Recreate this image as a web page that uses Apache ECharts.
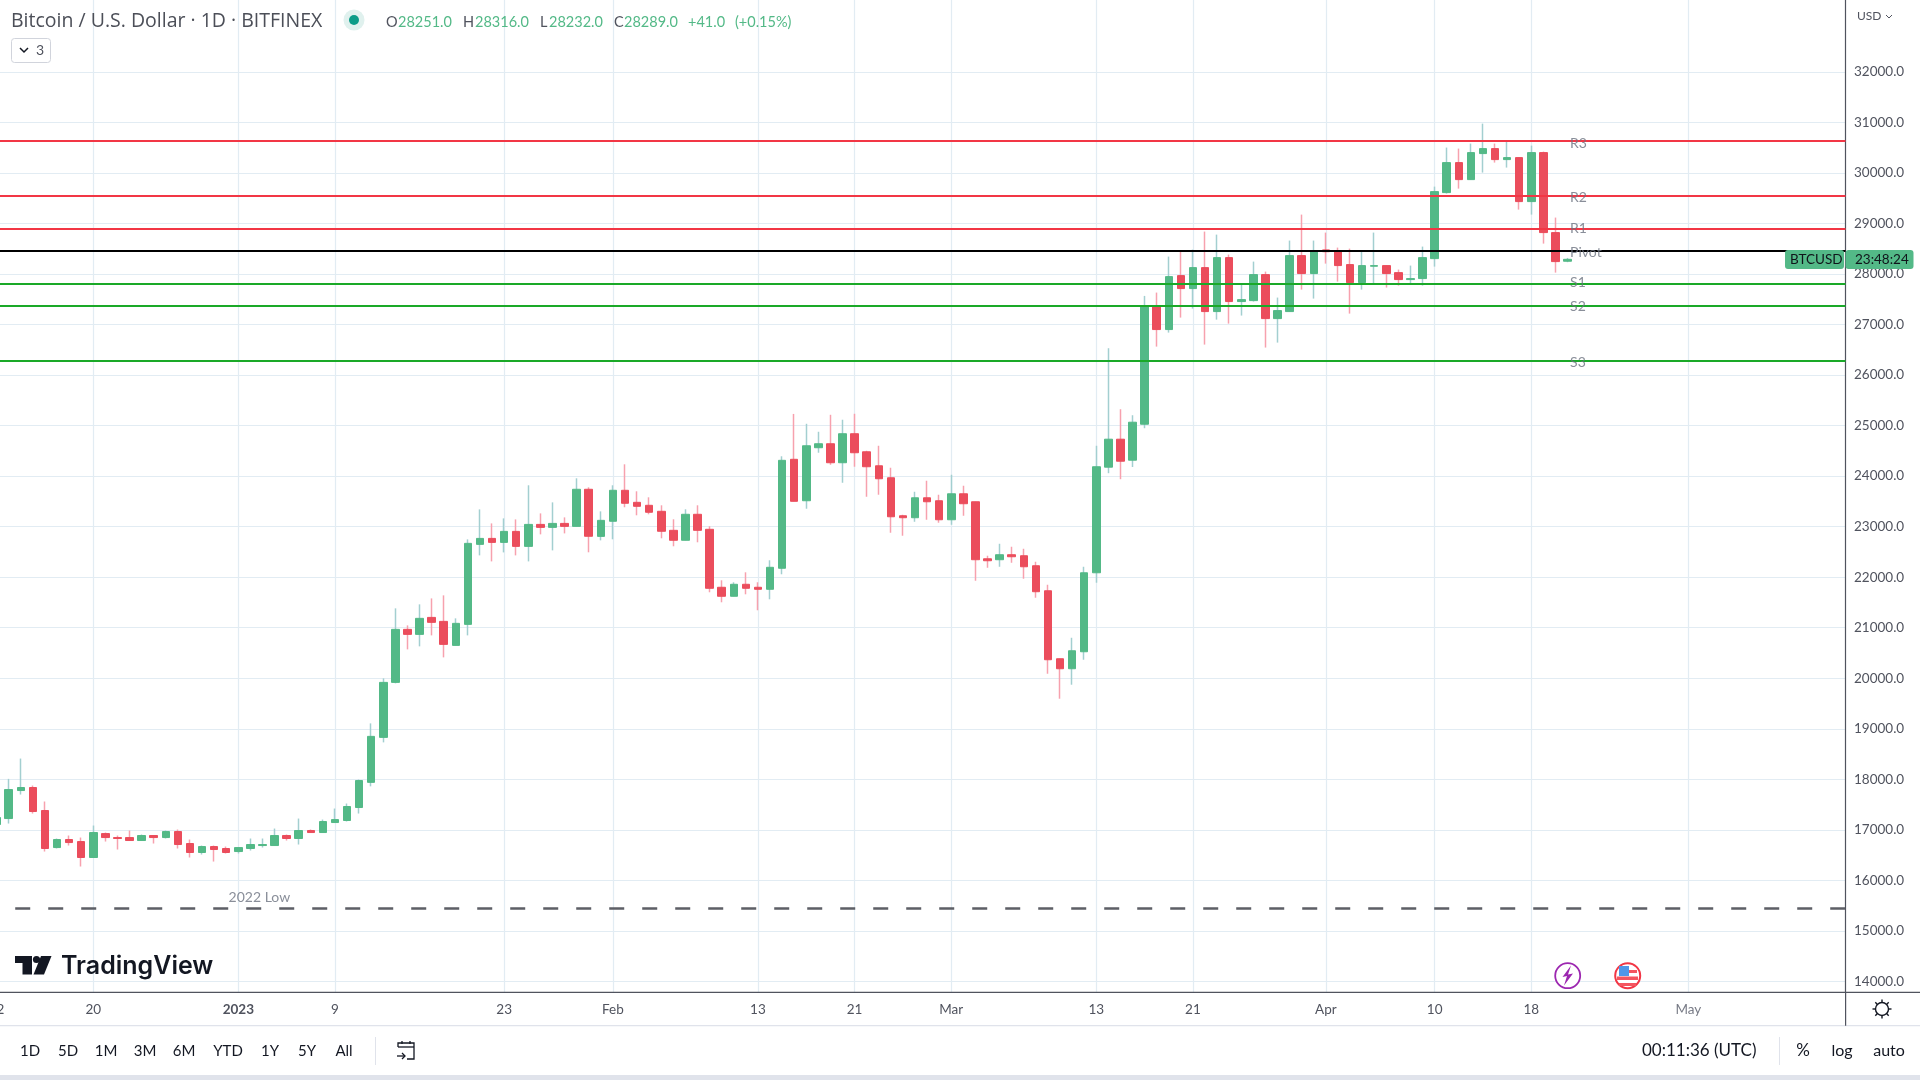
<!DOCTYPE html>
<html>
<head>
<meta charset="utf-8">
<title>BTCUSD</title>
<script src="https://cdn.jsdelivr.net/npm/echarts@6/dist/echarts.min.js"></script>
<style>
	html, body { margin: 0; padding: 0; background: #fff; }
	#chart { width: 1920px; height: 1080px; }
</style>
</head>
<body>
<div id="chart"></div>
<script>
// one slot per day, 2022-12-12 .. 2023-05-14
const categories = [];
for (let i = 0; i < 154; i++) {
	categories.push(new Date(Date.UTC(2022, 11, 12 + i)).toISOString().slice(0, 10));
}

const tickDates = ['2022-12-12', '2022-12-20', '2023-01-01', '2023-01-09', '2023-01-23', '2023-02-01', '2023-02-13', '2023-02-21', '2023-03-01', '2023-03-13', '2023-03-21', '2023-04-01', '2023-04-10', '2023-04-18', '2023-05-01'];
const tickLabels = ['12', '20', '2023', '9', '23', 'Feb', '13', '21', 'Mar', '13', '21', 'Apr', '10', '18', 'May'];
const priceTicks = [14000, 15000, 16000, 17000, 18000, 19000, 20000, 21000, 22000, 23000, 24000, 25000, 26000, 27000, 28000, 29000, 30000, 31000, 32000];

const opens = [
	17106, 17224, 17778, 17838, 17383, 16650, 16809, 16769, 16453, 16927,
	16848, 16848, 16789, 16888, 16848, 16967, 16730, 16552, 16670, 16631,
	16571, 16631, 16690, 16690, 16888, 16829, 16987, 16947, 17145, 17185,
	17442, 17940, 18830, 19918, 20967, 20868, 21204, 21125, 20650, 21066,
	22649, 22767, 22688, 22906, 22609, 23044, 22985, 23064, 23005, 23739,
	22807, 23106, 23719, 23481, 23422, 23303, 22927, 22730, 23244, 22947,
	21800, 21622, 21859, 21800, 21760, 22176, 24332, 23512, 24561, 24640,
	24264, 24838, 24481, 24204, 23967, 23215, 23176, 23571, 23512, 23136,
	23650, 23492, 22364, 22345, 22444, 22424, 22226, 21731, 20386, 20188,
	20524, 22087, 24176, 24730, 24314, 25026, 27354, 26899, 27967, 27710,
	28125, 27255, 28323, 27453, 27472, 27987, 27116, 27255, 28363, 28007,
	28475, 28462, 28185, 27829, 28152, 28165, 28026, 27888, 27908, 28303,
	29609, 30203, 29866, 30381, 30480, 30262, 30302, 29431, 30401, 28818,
	28251
];
const closes = [
	17244, 17798, 17838, 17363, 16631, 16809, 16749, 16453, 16947, 16848,
	16829, 16789, 16888, 16848, 16967, 16710, 16552, 16670, 16611, 16552,
	16650, 16710, 16710, 16888, 16829, 16987, 16947, 17165, 17204, 17462,
	17976, 18850, 19918, 20967, 20868, 21185, 21106, 20670, 21086, 22669,
	22767, 22688, 22906, 22609, 23044, 22985, 23064, 23005, 23739, 22809,
	23124, 23719, 23462, 23402, 23284, 22908, 22730, 23244, 22927, 21780,
	21622, 21859, 21780, 21760, 22195, 24312, 23501, 24600, 24640, 24264,
	24838, 24462, 24185, 23947, 23195, 23176, 23571, 23492, 23136, 23650,
	23453, 22345, 22325, 22444, 22404, 22206, 21712, 20366, 20188, 20544,
	22087, 24185, 24730, 24294, 25066, 27360, 26899, 27947, 27710, 28125,
	27255, 28323, 27453, 27492, 27987, 27116, 27275, 28363, 28007, 28442,
	28440, 28165, 27829, 28165, 28165, 28007, 27888, 27908, 28323, 29629,
	30203, 29866, 30401, 30480, 30262, 30302, 29431, 30401, 28818, 28244,
	28289
];
const lows = [
	17080, 17125, 17699, 17323, 16571, 16631, 16690, 16275, 16453, 16769,
	16611, 16789, 16789, 16730, 16829, 16631, 16453, 16512, 16373, 16532,
	16532, 16591, 16650, 16690, 16789, 16710, 16947, 16947, 17145, 17165,
	17323, 17861, 18731, 19899, 20571, 20631, 20848, 20413, 20650, 20848,
	22431, 22312, 22490, 22431, 22312, 22847, 22530, 22866, 23005, 22492,
	22728, 22749, 23383, 23224, 23244, 22769, 22611, 22730, 22690, 21701,
	21503, 21622, 21661, 21345, 21562, 22057, 23501, 23354, 24462, 24224,
	23868, 24185, 23591, 23631, 22879, 22820, 23096, 23136, 23077, 23037,
	23215, 21929, 22186, 22206, 22285, 21969, 21593, 20089, 19595, 19872,
	20366, 21890, 24057, 23938, 24180, 24947, 26562, 26839, 27136, 27314,
	26602, 27096, 27017, 27176, 27453, 26543, 26641, 27255, 27690, 27512,
	28204, 27848, 27215, 27690, 27809, 27730, 27769, 27809, 27769, 28145,
	29589, 29688, 29866, 30005, 30203, 30104, 29273, 29174, 28600, 28026,
	28232
];
const highs = [
	17260, 18009, 18411, 17877, 17561, 16829, 16888, 16848, 17086, 16947,
	16888, 16987, 16908, 16888, 16987, 17007, 16809, 16690, 16690, 16670,
	16650, 16829, 16829, 17026, 16908, 17224, 17007, 17204, 17422, 17521,
	17996, 19107, 19998, 21383, 21046, 21462, 21580, 21640, 21185, 22748,
	23341, 23064, 23163, 23143, 23818, 23262, 23480, 23183, 23956, 23778,
	23302, 23818, 24233, 23699, 23580, 23422, 23145, 23343, 23422, 23007,
	21938, 21899, 22096, 21899, 22334, 24392, 25230, 25035, 24877, 25213,
	25115, 25233, 24501, 24600, 24165, 23235, 23690, 23908, 23631, 24026,
	23809, 23492, 22424, 22661, 22602, 22562, 22305, 21850, 20386, 20801,
	22206, 24600, 26530, 25323, 25204, 27565, 27631, 28343, 28442, 28481,
	28838, 28778, 28383, 27789, 28244, 28046, 27532, 28660, 29174, 28660,
	28818, 28521, 28501, 28462, 28818, 28165, 28086, 28165, 28541, 29728,
	30500, 30480, 30579, 30974, 30579, 30618, 30302, 30539, 30420, 29115,
	28316
];

const levelNames = ['R3', 'R2', 'R1', 'Pivot', 'S1', 'S2', 'S3'];
const levelValues = [30638, 29550, 28897, 28462, 27809, 27373, 26285];
const levelColors = ['#f23645', '#f23645', '#f23645', '#000000', '#1aa928', '#1aa928', '#1aa928'];
const lowName = '2022 Low';
const lowValue = 15448;

const font = 'Lato, "Open Sans", sans-serif';
const upColor = '#53b987';
const downColor = '#eb4d5c';
const upWick = '#a3cfd0';
const downWick = '#f7a1ae';
const gridColor = '#e2ecf3';
const axisColor = '#50535e';
const noteColor = '#6c7280';
// the level captions do not sit at one fixed distance from their lines
const captionShift = [2.7, 2, 0, 1.7, -1.3, 1, 2];

let wickData = [];
let bodyData = [];
opens.forEach((open, i) => {
	wickData.push([open, closes[i], lows[i], highs[i]]);
	bodyData.push([open, closes[i], Math.min(open, closes[i]), Math.max(open, closes[i])]);
});

function text(str, x, y, size, fill, opt) {
	return {
		type: 'text',
		z: 100,
		style: Object.assign({
			text: str,
			x: x,
			y: y,
			fill: fill,
			font: size + 'px ' + font,
			textVerticalAlign: 'middle'
		}, opt || {})
	};
}

function rect(x, y, w, h, fill, r, z) {
	return {
		type: 'rect',
		z: z || 90,
		shape: { x: x, y: y, width: w, height: h, r: r || 0 },
		style: { fill: fill }
	};
}

function line(x1, y1, x2, y2, color, width) {
	return {
		type: 'line',
		z: 95,
		shape: { x1: x1, y1: y1, x2: x2, y2: y2 },
		style: { stroke: color, lineWidth: width || 1 }
	};
}

function poly(points, fill) {
	return { type: 'polygon', z: 96, shape: { points: points }, style: { fill: fill } };
}

function stroked(points, color, width) {
	return {
		type: 'polyline',
		z: 96,
		shape: { points: points },
		style: { stroke: color, lineWidth: width || 1.3, fill: null }
	};
}

function circle(cx, cy, r, fill, stroke, width) {
	return {
		type: 'circle',
		z: 95,
		shape: { cx: cx, cy: cy, r: r },
		style: { fill: fill, stroke: stroke, lineWidth: width || 0 }
	};
}

let graphics = [
	// panels below the plot and the axes frame
	rect(0, 1075, 1920, 5, '#e0e3eb'),
	line(0, 1025.7, 1920, 1025.7, '#e0e3eb', 1.3),
	line(0, 992.4, 1920, 992.4, axisColor, 1.2),
	line(1845.6, 992, 1845.6, 1025.7, axisColor, 1.2),

	// header
	text('Bitcoin / U.S. Dollar · 1D · BITFINEX', 11, 21, 19.5, '#4c4f58', { font: '19.5px "Open Sans", sans-serif' }),
	circle(354, 20, 10.5, '#e0f1ee'),
	circle(354, 20, 5, '#0c9c88'),
	text('O', 386, 22, 14.5, '#50535e'),
	text('28251.0', 398, 22, 14.5, upColor),
	text('H', 463, 22, 14.5, '#50535e'),
	text('28316.0', 475, 22, 14.5, upColor),
	text('L', 540, 22, 14.5, '#50535e'),
	text('28232.0', 549, 22, 14.5, upColor),
	text('C', 614, 22, 14.5, '#50535e'),
	text('28289.0', 624, 22, 14.5, upColor),
	text('+41.0', 688, 22, 14.5, upColor),
	text('(+0.15%)', 735, 22, 14.5, upColor),
	{
		type: 'rect', z: 90,
		shape: { x: 11.5, y: 38.5, width: 39, height: 24, r: 3 },
		style: { fill: '#ffffff', stroke: '#d1d4dc', lineWidth: 1 }
	},
	stroked([[20, 48], [24, 52], [28, 48]], '#131722', 1.5),
	text('3', 36, 50.5, 14, '#50535e'),
	text('USD', 1857, 16, 12, axisColor),
	stroked([[1886, 15], [1889, 18], [1892, 15]], axisColor, 1),

	// price tags
	rect(1785, 250, 59, 19, upColor, 3),
	rect(1845.5, 250, 68, 19, upColor, 3),
	text('BTCUSD', 1790, 260, 13.5, '#10141a'),
	text('23:48:24', 1855, 260, 13.5, '#10141a'),

	// watermark
	poly([[15, 956], [32, 956], [32, 974.5], [22.5, 974.5], [22.5, 963], [15, 963]], '#131722'),
	circle(36.5, 959.5, 3.6, '#131722'),
	poly([[41, 956], [51.5, 956], [44, 974.5], [33.5, 974.5]], '#131722'),
	{
		type: 'text', z: 100,
		style: { text: 'TradingView', x: 61, y: 966.5, fill: '#131722', font: '600 25px Inter, sans-serif', textVerticalAlign: 'middle' }
	},

	// event markers
	circle(1567.7, 975.7, 12.5, '#ffffff', '#9c27b0', 1.8),
	poly([[1571, 965.5], [1562.5, 977], [1567, 976], [1564, 985.5], [1573, 973.5], [1568, 974.5]], '#9c27b0'),
	circle(1627.7, 975.7, 12.5, '#ffffff', '#f23645', 2),
	rect(1619, 966, 10, 10, '#4f97e8', 0, 97),
	rect(1629, 970, 8, 3, '#f4555f', 0, 97),
	rect(1617, 976.5, 21, 3.5, '#f4555f', 0, 97),
	rect(1619, 983, 17, 3, '#f4555f', 0, 97),

	// toolbar
	text('1D', 30, 1051, 15, '#131722', { textAlign: 'center' }),
	text('5D', 68, 1051, 15, '#131722', { textAlign: 'center' }),
	text('1M', 106, 1051, 15, '#131722', { textAlign: 'center' }),
	text('3M', 145, 1051, 15, '#131722', { textAlign: 'center' }),
	text('6M', 184, 1051, 15, '#131722', { textAlign: 'center' }),
	text('YTD', 228, 1051, 15, '#131722', { textAlign: 'center' }),
	text('1Y', 270, 1051, 15, '#131722', { textAlign: 'center' }),
	text('5Y', 307, 1051, 15, '#131722', { textAlign: 'center' }),
	text('All', 344, 1051, 15, '#131722', { textAlign: 'center' }),
	line(375.5, 1037, 375.5, 1065, '#e0e3eb', 1),
	stroked([[398, 1047], [398, 1043], [414, 1043], [414, 1059], [407, 1059]], '#131722', 1.3),
	stroked([[398, 1047], [414, 1047]], '#131722', 1.3),
	stroked([[402, 1041], [402, 1044]], '#131722', 1.3),
	stroked([[410, 1041], [410, 1044]], '#131722', 1.3),
	stroked([[397, 1056], [405, 1056]], '#131722', 1.3),
	stroked([[402, 1053], [405, 1056], [402, 1059]], '#131722', 1.3),
	text('00:11:36 (UTC)', 1642, 1051, 17, '#131722'),
	line(1779.5, 1037, 1779.5, 1065, '#e0e3eb', 1),
	text('%', 1803, 1051, 17, '#131722', { textAlign: 'center' }),
	text('log', 1842, 1051, 16, '#131722', { textAlign: 'center' }),
	text('auto', 1889, 1051, 16, '#131722', { textAlign: 'center' }),

	// settings gear
	circle(1882, 1009, 6.5, '#ffffff', '#131722', 1.4),
	line(1882, 999.5, 1882, 1002.5, '#131722', 1.4),
	line(1882, 1015.5, 1882, 1018.5, '#131722', 1.4),
	line(1872.5, 1009, 1875.5, 1009, '#131722', 1.4),
	line(1888.5, 1009, 1891.5, 1009, '#131722', 1.4),
	line(1875.3, 1002.3, 1877.4, 1004.4, '#131722', 1.4),
	line(1886.6, 1013.6, 1888.7, 1015.7, '#131722', 1.4),
	line(1875.3, 1015.7, 1877.4, 1013.6, '#131722', 1.4),
	line(1886.6, 1004.4, 1888.7, 1002.3, '#131722', 1.4)
];

let myChart = echarts.init(document.getElementById('chart'));

let option = {
	animation: false,
	backgroundColor: '#ffffff',
	textStyle: { fontFamily: font },
	grid: { left: -3.38, right: 74.5, top: 0, bottom: 87.7, outerBoundsMode: 'none' },
	xAxis: {
		type: 'category',
		data: categories,
		boundaryGap: false,
		axisLine: { show: false },
		axisTick: { show: false },
		axisLabel: {
			show: true,
			interval: (index, value) => tickDates.includes(value),
			margin: 10,
			fontSize: 13.5,
			color: axisColor,
			showMinLabel: true,
			hideOverlap: false,
			formatter: (value) => {
				let label = tickLabels[tickDates.indexOf(value)];
				if (label === '2023') return '{b|' + label + '}';
				if (label === 'May') return '{f|' + label + '}';
				return label;
			},
			rich: {
				b: { fontWeight: 'bold', fontSize: 13.5, color: axisColor },
				f: { fontSize: 13.5, color: '#787b86' }
			}
		},
		splitLine: {
			show: true,
			interval: (index, value) => tickDates.includes(value),
			lineStyle: { color: gridColor, width: 1.2 }
		}
	},
	yAxis: {
		type: 'value',
		position: 'right',
		min: 13786,
		max: 33420,
		scale: true,
		axisLine: { show: true, onZero: false, lineStyle: { color: axisColor, width: 1.2 } },
		axisTick: { show: false, customValues: priceTicks },
		axisLabel: {
			customValues: priceTicks,
			margin: 8.5,
			fontSize: 13.5,
			color: axisColor,
			formatter: (value) => value.toFixed(1)
		},
		splitLine: { show: true, lineStyle: { color: gridColor, width: 1.2 } }
	},
	series: [
		{
			name: 'wick',
			type: 'candlestick',
			barWidth: 1,
			data: wickData,
			silent: true,
			itemStyle: { color: upWick, color0: downWick, borderColor: upWick, borderColor0: downWick, borderWidth: 1.5 },
			z: 2
		},
		{
			name: 'body',
			type: 'candlestick',
			barWidth: 8,
			data: bodyData,
			silent: true,
			itemStyle: { color: upColor, color0: downColor, borderColor: upColor, borderColor0: downColor, borderWidth: 1 },
			z: 3,
			markLine: {
				silent: true,
				symbol: ['none', 'none'],
				z: 6,
				label: { show: false },
				emphasis: { disabled: true },
				data: levelValues.map((value, i) => ({
					yAxis: value,
					lineStyle: { color: levelColors[i], width: 2, type: 'solid', opacity: 1 }
				})).concat([{
					yAxis: lowValue,
					lineStyle: { color: '#5d5f66', width: 2.6, type: [15, 18], dashOffset: 14.4, opacity: 1 }
				}])
			}
		},
		{
			name: 'levels',
			type: 'scatter',
			symbolSize: 1,
			silent: true,
			z: 7,
			itemStyle: { color: 'transparent' },
			label: {
				show: true,
				position: 'right',
				distance: 2,
				fontSize: 14,
				color: noteColor,
				formatter: (p) => p.data.name
			},
			data: levelNames.map((name, i) => ({
				name: name,
				value: [categories[130], levelValues[i]],
				label: { offset: [0, captionShift[i]] }
			})).concat([{
				name: lowName,
				value: [categories[21], lowValue],
				label: { position: 'top', distance: 3, offset: [9, 0], fontSize: 14 }
			}])
		}
	],
	graphic: { elements: graphics }
};
myChart.setOption(option);
window.onresize = myChart.resize;
</script>
</body>
</html>
